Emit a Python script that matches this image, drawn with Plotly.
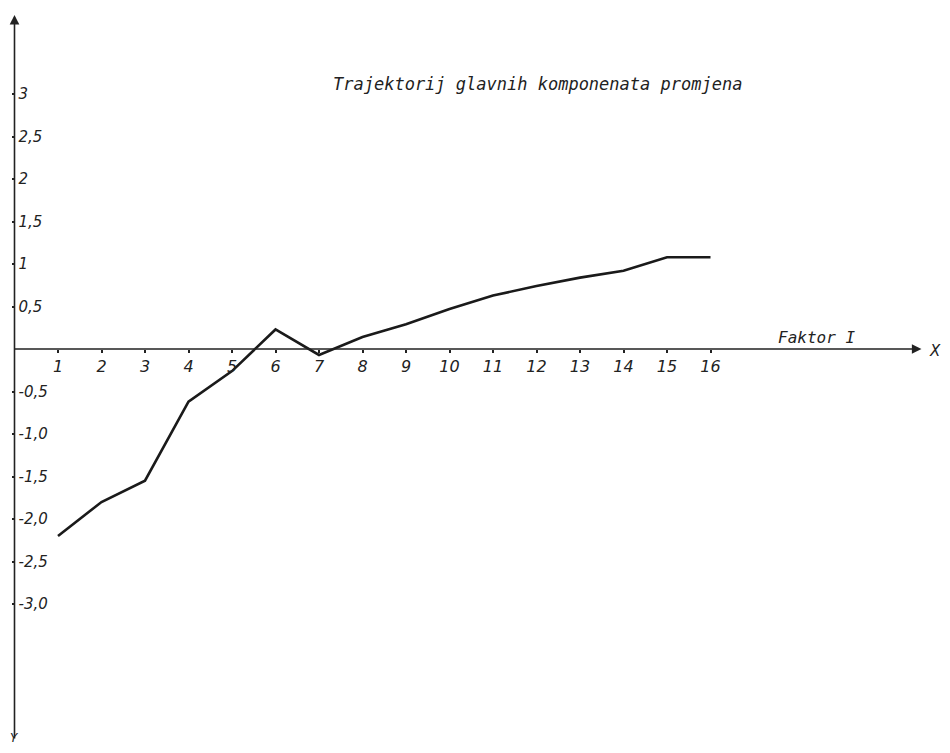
import plotly.graph_objects as go

# Data
faktor = list(range(1, 17))
vrijednosti = [-2.2, -1.8, -1.55, -0.62, -0.26, 0.23, -0.07, 0.14, 0.29,
               0.47, 0.63, 0.74, 0.84, 0.92, 1.08, 1.08]

x_tickvals = list(range(1, 17))
x_ticktext = [str(v) for v in x_tickvals]
y_tickvals = [3, 2.5, 2, 1.5, 1, 0.5, -0.5, -1.0, -1.5, -2.0, -2.5, -3.0]
y_ticktext = ["3", "2,5", "2", "1,5", "1", "0,5", "-0,5", "-1,0", "-1,5", "-2,0", "-2,5", "-3,0"]

title_text = "Trajektorij glavnih komponenata promjena"

INK = "#222222"
FONT = "DejaVu Sans"
MONO = "DejaVu Sans Mono"

# page body adds an 8px margin on every side: size the figure to fit inside it
OFF = 8
W, H = 950 - 2 * OFF, 753 - 2 * OFF
x0_px, x_scale = 14.5 - OFF, 43.5
y0_px, y_scale = 349.0 - OFF, 85.0


def px(xp):
    return (xp - OFF) / W


def py(yp):
    return 1 - (yp - OFF) / H


fig = go.Figure()
fig.add_trace(go.Scatter(x=faktor, y=vrijednosti, mode="lines",
                         line=dict(color="#1a1a1a", width=2.6),
                         hoverinfo="skip"))

fig.update_layout(
    width=W, height=H,
    margin=dict(l=0, r=0, t=0, b=0),
    paper_bgcolor="white", plot_bgcolor="white",
    showlegend=False,
    xaxis=dict(range=[-x0_px / x_scale, (W - x0_px) / x_scale],
               domain=[0, 1], anchor="free", position=1 - y0_px / H,
               tickvals=x_tickvals, ticktext=x_ticktext,
               showgrid=False, zeroline=False, showline=False,
               ticks="outside", ticklen=3, tickwidth=2, tickcolor=INK,
               tickfont=dict(family=FONT, size=16, color=INK, style="italic")),
    yaxis=dict(range=[(y0_px - H) / y_scale, y0_px / y_scale],
               domain=[0, 1], anchor="free", position=x0_px / W,
               tickvals=y_tickvals, ticktext=y_ticktext,
               showgrid=False, zeroline=False, showline=False,
               ticks="outside", ticklen=3, tickwidth=2, tickcolor=INK,
               ticklabelposition="inside",
               tickfont=dict(family=FONT, size=15, color=INK, style="italic")),
)

# axis lines with arrows
fig.add_annotation(x=20.85, y=0, ax=-0.03, ay=0, xref="x", yref="y",
                   axref="x", ayref="y", text="", showarrow=True,
                   arrowhead=2, arrowsize=1.2, arrowwidth=1.6, arrowcolor=INK)
fig.add_annotation(x=0, y=3.93, ax=0, ay=-4.6, xref="x", yref="y",
                   axref="x", ayref="y", text="", showarrow=True,
                   arrowhead=2, arrowsize=1.2, arrowwidth=1.6, arrowcolor=INK)

# labels
fig.add_annotation(x=px(537), y=py(84), xref="paper", yref="paper",
                   text=title_text, showarrow=False, xanchor="center", yanchor="middle",
                   font=dict(family=MONO, size=17, color=INK, style="italic"))
fig.add_annotation(x=px(816), y=py(338), xref="paper", yref="paper",
                   text="Faktor I", showarrow=False, xanchor="center", yanchor="middle",
                   font=dict(family=MONO, size=16, color=INK, style="italic"))
fig.add_annotation(x=px(935), y=py(351), xref="paper", yref="paper",
                   text="X", showarrow=False, xanchor="center", yanchor="middle",
                   font=dict(family=FONT, size=15, color=INK, style="italic"))
fig.add_annotation(x=px(14), y=py(738), xref="paper", yref="paper",
                   text="Y", showarrow=False, xanchor="center", yanchor="middle",
                   font=dict(family=FONT, size=12, color=INK, style="italic"))

fig.write_html("out.html")
